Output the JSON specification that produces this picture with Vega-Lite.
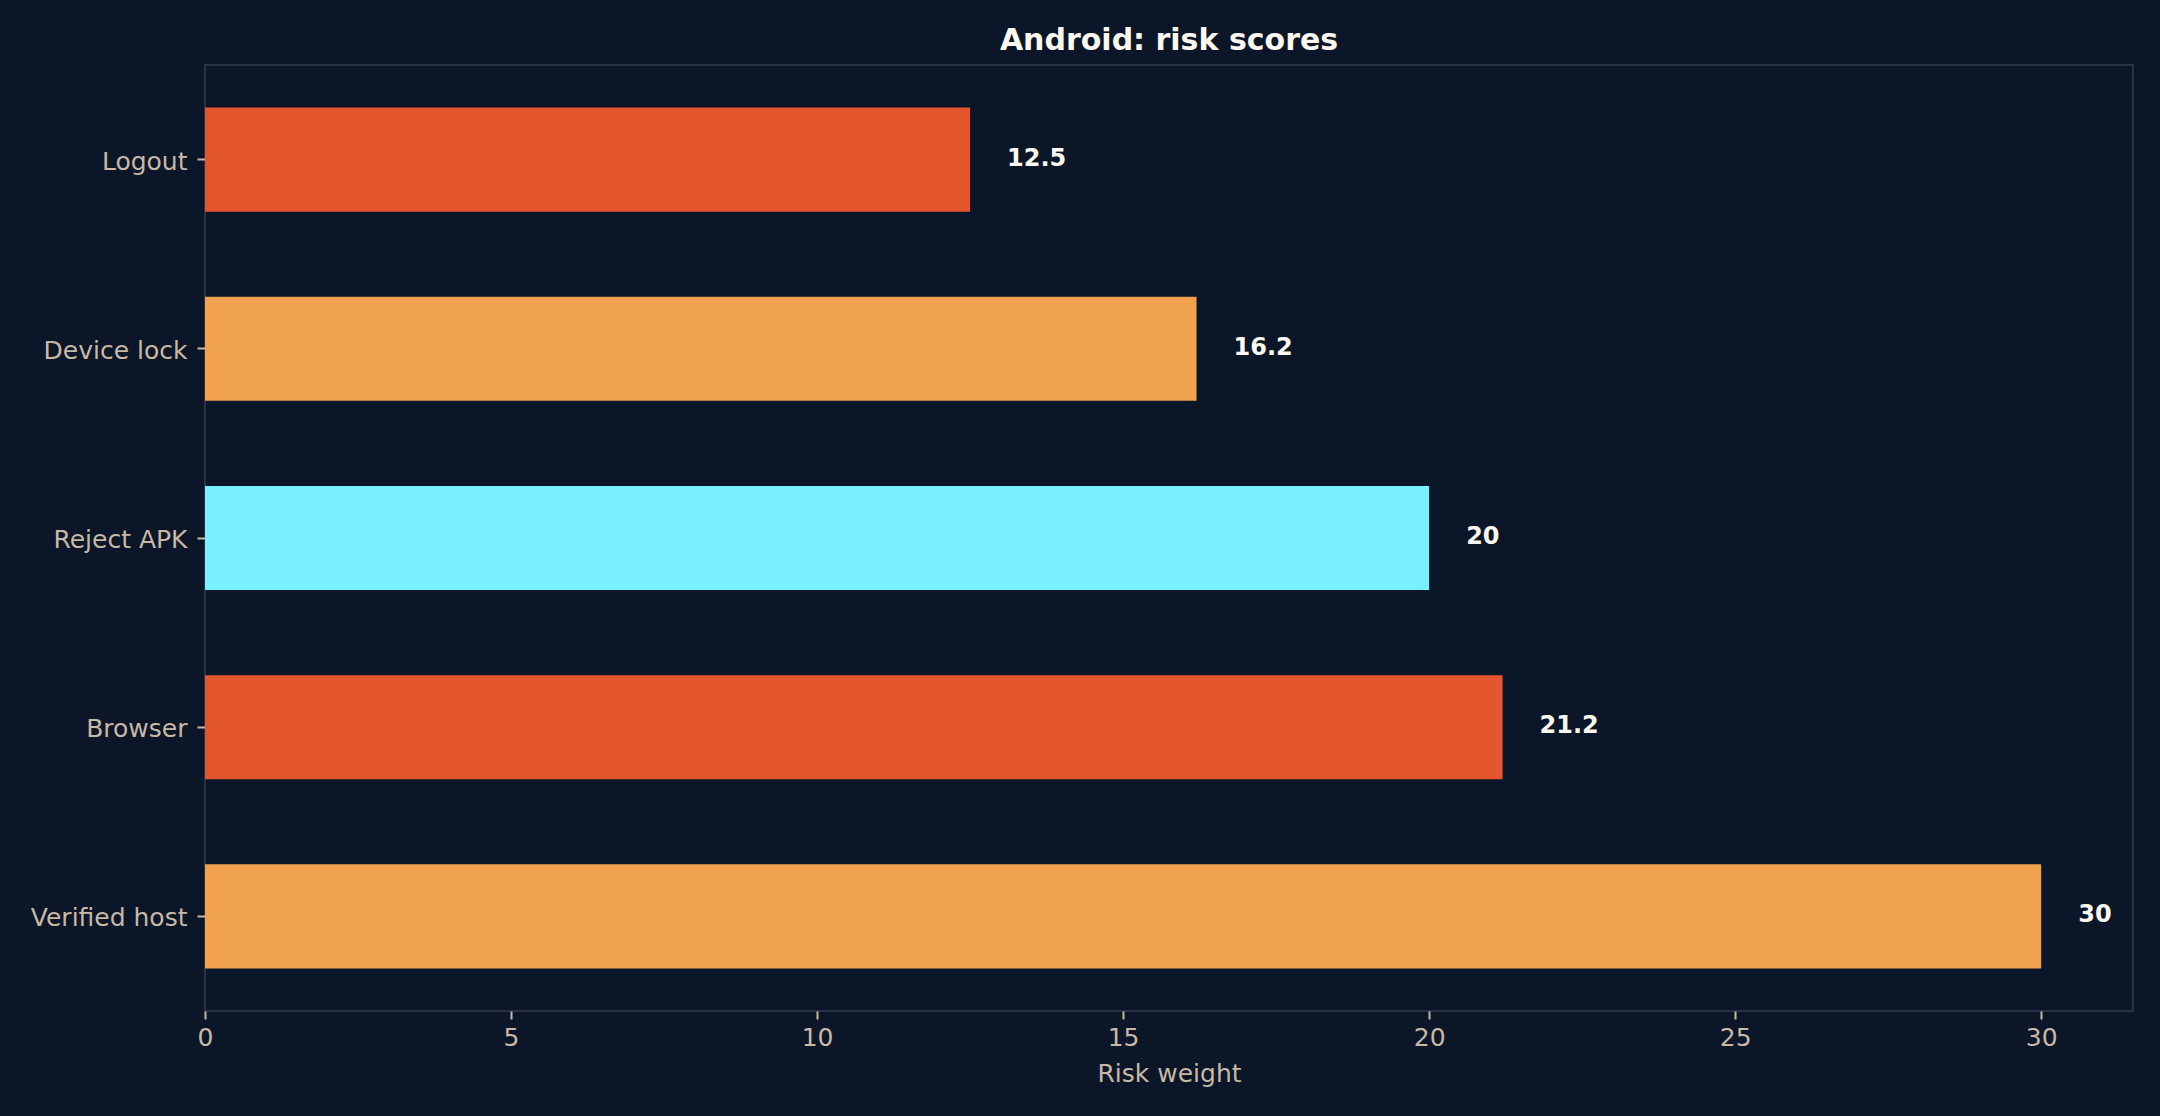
{
  "$schema": "https://vega.github.io/schema/vega-lite/v6.json",
  "autosize": {"type": "none"},
  "padding": {"left": 205, "top": 65, "right": 27, "bottom": 105},
  "width": 1928,
  "height": 946,
  "background": "#0b1628",
  "config": {
    "font": "DejaVu Sans",
    "view": {"stroke": "#2a3346", "strokeWidth": 2, "fill": "#0b1628"},
    "axis": {
      "labelColor": "#c8b8a6",
      "titleColor": "#c8b8a6",
      "tickColor": "#c8b8a6",
      "labelFontSize": 25,
      "titleFontSize": 25,
      "titleFontWeight": "normal",
      "tickSize": 8,
      "tickWidth": 2,
      "domain": false,
      "grid": false,
      "labelFlush": false,
      "labelFont": "DejaVu Sans",
      "titleFont": "DejaVu Sans"
    }
  },
  "title": {
    "text": "Android: risk scores",
    "color": "#fdf8ef",
    "fontSize": 30,
    "fontWeight": "bold",
    "font": "DejaVu Sans",
    "anchor": "middle",
    "offset": 9
  },
  "data": {
    "values": [
      {"action": "Logout", "score": 12.5},
      {"action": "Device lock", "score": 16.2},
      {"action": "Reject APK", "score": 20},
      {"action": "Browser", "score": 21.2},
      {"action": "Verified host", "score": 30}
    ]
  },
  "encoding": {
    "y": {
      "field": "action",
      "type": "nominal",
      "sort": null,
      "title": null,
      "scale": {"paddingInner": 0.45, "paddingOuter": 0.225},
      "axis": {"labelPadding": 10, "labelOffset": 2}
    },
    "x": {
      "field": "score",
      "type": "quantitative",
      "title": "Risk weight",
      "scale": {"domain": [0, 31.5], "nice": false, "zero": true},
      "axis": {"values": [0, 5, 10, 15, 20, 25, 30], "labelPadding": 6, "titlePadding": 11}
    }
  },
  "layer": [
    {
      "mark": {"type": "bar"},
      "encoding": {
        "color": {
          "field": "action",
          "type": "nominal",
          "legend": null,
          "scale": {
            "domain": ["Logout", "Device lock", "Reject APK", "Browser", "Verified host"],
            "range": ["#e4572e", "#f0a24e", "#7aefff", "#e4572e", "#f0a24e"]
          }
        }
      }
    },
    {
      "mark": {
        "type": "text",
        "align": "left",
        "baseline": "middle",
        "dx": 37,
        "dy": -1,
        "fontSize": 24,
        "fontWeight": "bold",
        "color": "#fdf8ef",
        "font": "DejaVu Sans"
      },
      "encoding": {"text": {"field": "score", "type": "quantitative"}}
    }
  ]
}
